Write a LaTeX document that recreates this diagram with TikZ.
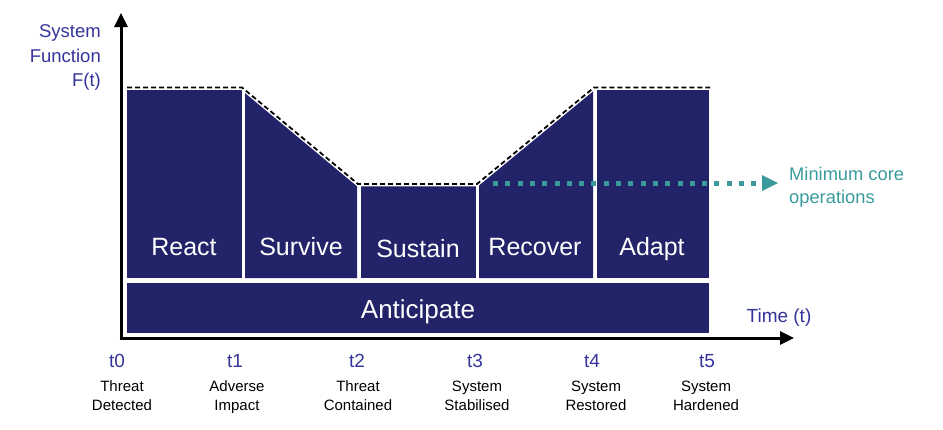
\documentclass[tikz,border=0pt]{standalone}
\usepackage{fontspec}
\setmainfont{Liberation Sans}
\usetikzlibrary{arrows.meta}
\definecolor{navy}{HTML}{23236A}
\definecolor{axisblue}{HTML}{34349A}
\definecolor{teal}{HTML}{3A9A9C}
\tikzset{
  blockfill/.style={fill=navy, draw=none},
  blocklabel/.style={text=white, font=\fontsize{25}{28}\selectfont, inner sep=0pt, anchor=base},
  axisline/.style={line width=3pt, -{Triangle[length=14pt,width=13pt]}},
  axislabel/.style={text=axisblue, font=\fontsize{18.5}{22}\selectfont, inner sep=0pt, anchor=base east},
  tlabel/.style={text=axisblue, font=\fontsize{19}{22}\selectfont, inner sep=0pt, anchor=base},
  eventlabel/.style={text=black, font=\fontsize{15}{19}\selectfont, inner sep=0pt, anchor=base},
  corelabel/.style={text=teal, font=\fontsize{18.3}{22}\selectfont, inner sep=0pt, anchor=base west},
  envelope/.style={black, line width=1.8pt, dash pattern=on 5pt off 3pt},
  envelopebg/.style={white, line width=4.5pt},
  coreline/.style={teal, line width=5pt, dash pattern=on 5pt off 7.3pt},
}
\begin{document}
\begin{tikzpicture}[x=1pt,y=-1pt]
\useasboundingbox (0,0) rectangle (943,429);
% blocks
\fill[blockfill] (127,89) rectangle (242,278);
\fill[blockfill] (245,90.5) -- (357,183.5) -- (357,278) -- (245,278) -- cycle;
\fill[blockfill] (361,185) rectangle (476,278);
\fill[blockfill] (479,183) -- (593,89) -- (593,278) -- (479,278) -- cycle;
\fill[blockfill] (597,89) rectangle (709,278);
\fill[blockfill] (127,283) rectangle (709,333);
% envelope
\draw[envelopebg] (127,87.5) -- (242,87.5) -- (358,184) -- (477,184) -- (594,87.5) -- (710,87.5);
\draw[envelope] (127,87.5) -- (242,87.5) -- (358,184) -- (477,184) -- (594,87.5) -- (710,87.5);
% labels in blocks
\node[blocklabel] (react) at (184,255.5) {React};
\node[blocklabel] (survive) at (301,255.5) {Survive};
\node[blocklabel] (sustain) at (418,257) {Sustain};
\node[blocklabel] (recover) at (535,255.5) {Recover};
\node[blocklabel] (adapt) at (652,255.5) {Adapt};
\node[blocklabel, font=\fontsize{26}{28}\selectfont] (anticipate) at (418,318) {Anticipate};
% axes
\coordinate (ytip) at (121,13);
\coordinate (xtip) at (794,338);
\draw[axisline] (121,339.5) -- (ytip);
\draw[axisline] (119.5,338) -- (xtip);
\node[axislabel] (ylabel1) at (101,37.5) {System};
\node[axislabel] (ylabel2) at (101,62) {Function};
\node[axislabel] (ylabel3) at (101,86) {F(t)};
\node[tlabel] (xlabel) at (779,322) {Time (t)};
% minimum core operations
\coordinate (corestart) at (493,183);
\node[corelabel] (core1) at (789,180.5) {Minimum core};
\node[corelabel] (core2) at (789,203.5) {operations};
\draw[coreline] (corestart) -- (765,183);
\fill[teal] (762,175) -- (778,183) -- (762,191) -- cycle;
% time labels
\node[tlabel] (t0) at (117,367) {t0};
\node[tlabel] (t1) at (235,367) {t1};
\node[tlabel] (t2) at (357,367) {t2};
\node[tlabel] (t3) at (475,367) {t3};
\node[tlabel] (t4) at (592,367) {t4};
\node[tlabel] (t5) at (707,367) {t5};
\node[eventlabel] (e0a) at (122,391.5) {Threat};
\node[eventlabel] (e0b) at (122,410.5) {Detected};
\node[eventlabel] (e1a) at (237,391.5) {Adverse};
\node[eventlabel] (e1b) at (237,410.5) {Impact};
\node[eventlabel] (e2a) at (358,391.5) {Threat};
\node[eventlabel] (e2b) at (358,410.5) {Contained};
\node[eventlabel] (e3a) at (477,391.5) {System};
\node[eventlabel] (e3b) at (477,410.5) {Stabilised};
\node[eventlabel] (e4a) at (596,391.5) {System};
\node[eventlabel] (e4b) at (596,410.5) {Restored};
\node[eventlabel] (e5a) at (706,391.5) {System};
\node[eventlabel] (e5b) at (706,410.5) {Hardened};
\end{tikzpicture}
\end{document}
